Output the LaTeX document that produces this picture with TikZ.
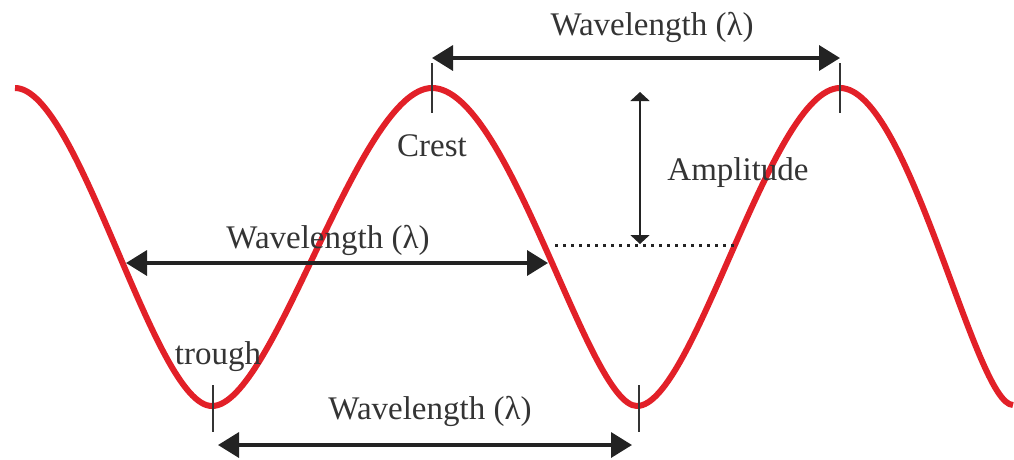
\documentclass[tikz,border=0pt]{standalone}
\usepackage{fontspec}
\setmainfont{Liberation Serif}
\usetikzlibrary{arrows.meta}
\definecolor{wavered}{RGB}{226,32,40}
\definecolor{ink}{RGB}{35,35,35}
\definecolor{txt}{RGB}{52,52,52}
\tikzset{
  wave/.style={draw=wavered, line width=6pt, line join=round},
  bigarrow/.style={draw=ink, line width=3.5pt, {Triangle[length=21pt,width=25pt]}-{Triangle[length=21pt,width=25pt]}},
  amparrow/.style={draw=ink, line width=2pt, {Triangle[length=9pt,width=19pt]}-{Triangle[length=9pt,width=19pt]}},
  tick/.style={draw=txt, line width=1.3pt},
  midline/.style={draw=ink, line width=3pt, dash pattern=on 3pt off 5pt},
  label/.style={text=txt, font=\fontsize{33}{38}\selectfont, inner sep=0pt}
}
\begin{document}
\begin{tikzpicture}[x=1pt,y=-1pt]
\useasboundingbox (0,0) rectangle (1014,459);
% extrema of the wave
\coordinate (s)  at (15,88);
\coordinate (t1) at (212,406);
\coordinate (c1) at (432,88);
\coordinate (t2) at (637,406);
\coordinate (c2) at (840,88);
\coordinate (e)  at (1013,405);
\path[wave] (s)
  .. controls +(64,0) and +(-58,0) .. (t1)
  .. controls +(62,0) and +(-73,0) .. (c1)
  .. controls +(77,0) and +(-49,0) .. (t2)
  .. controls +(57,0) and +(-69,0) .. (c2)
  .. controls +(69,0) and +(-38,0) .. (e);
% ticks
\coordinate (c1a) at (432,63); \coordinate (c1b) at (432,113);
\coordinate (c2a) at (840,63); \coordinate (c2b) at (840,113);
\coordinate (t1a) at (213,385); \coordinate (t1b) at (213,432);
\coordinate (t2a) at (639,385); \coordinate (t2b) at (639,432);
\draw[tick] (c1a) -- (c1b);
\draw[tick] (c2a) -- (c2b);
\draw[tick] (t1a) -- (t1b);
\draw[tick] (t2a) -- (t2b);
% wavelength arrows
\coordinate (a1) at (432,58); \coordinate (a2) at (840,58);
\coordinate (b1) at (126,263); \coordinate (b2) at (548,263);
\coordinate (d1) at (218,445); \coordinate (d2) at (632,445);
\draw[bigarrow] (a1) -- (a2);
\draw[bigarrow] (b1) -- (b2);
\draw[bigarrow] (d1) -- (d2);
% amplitude
\coordinate (m1) at (640,92); \coordinate (m2) at (640,244);
\draw[amparrow] (m1) -- (m2);
\coordinate (l1) at (555,245); \coordinate (l2) at (736,245);
\draw[midline] (l1) -- (l2);
% labels
\node[label] (wl1) at (652,27) {Wavelength (λ)};
\node[label] (wl2) at (328,240) {Wavelength (λ)};
\node[label] (wl3) at (430,411) {Wavelength (λ)};
\node[label] (crest) at (432,146) {Crest};
\node[label] (amp) at (738,173) {Amplitude};
\node[label] (tr) at (218,357) {trough};
\end{tikzpicture}
\end{document}
